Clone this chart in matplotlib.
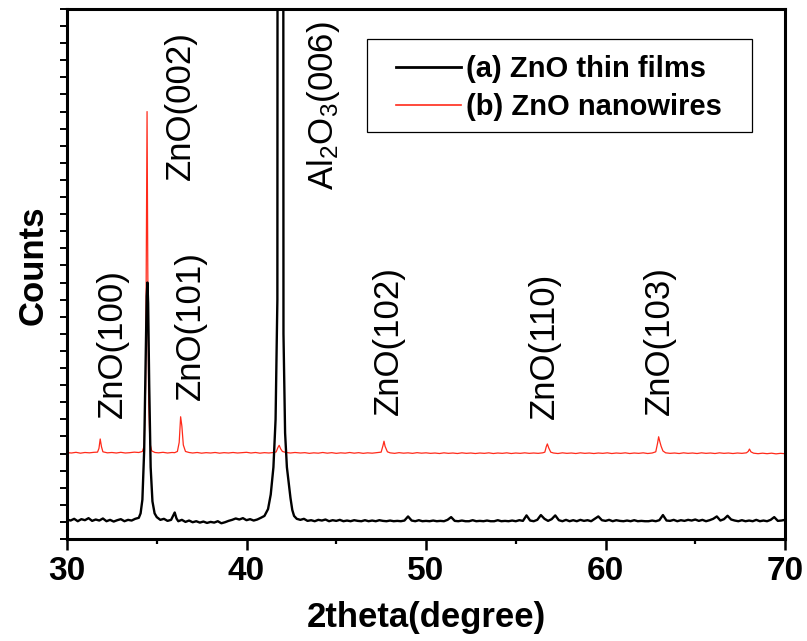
import matplotlib
matplotlib.use("Agg")
import matplotlib.pyplot as plt
from matplotlib.patches import Rectangle
from matplotlib.ticker import MultipleLocator

plt.rcParams["font.family"] = ["Liberation Sans", "DejaVu Sans"]
plt.rcParams["mathtext.fontset"] = "custom"
plt.rcParams["mathtext.rm"] = "Liberation Sans"
plt.rcParams["mathtext.default"] = "rm"

# (a) ZnO thin films, black trace
black_2theta = [
    30.0, 30.2, 30.4, 30.6, 30.8, 31.0, 31.2, 31.4, 31.6, 31.8,
    32.0, 32.2, 32.4, 32.6, 32.8, 33.0, 33.2, 33.4, 33.6, 33.8,
    34.0, 34.1, 34.2, 34.3, 34.38, 34.44, 34.48, 34.52, 34.58, 34.66, 34.76, 34.88,
    35.0, 35.2, 35.4, 35.6, 35.8, 36.0, 36.1, 36.2, 36.4, 36.6, 36.8,
    37.0, 37.2, 37.4, 37.6, 37.8, 38.0, 38.2, 38.4, 38.6, 38.8,
    39.0, 39.2, 39.4, 39.6, 39.8, 40.0, 40.2, 40.4, 40.6, 40.8,
    41.0, 41.2, 41.35, 41.5, 41.62, 41.72, 41.8, 41.9, 41.98, 42.06,
    42.15, 42.25, 42.35, 42.45, 42.55, 42.65, 42.8,
    43.0, 43.2, 43.4, 43.6, 43.8, 44.0, 44.2, 44.4, 44.6, 44.8,
    45.0, 45.2, 45.4, 45.6, 45.8, 46.0, 46.2, 46.4, 46.6, 46.8,
    47.0, 47.2, 47.4, 47.6, 47.8, 48.0, 48.2, 48.4, 48.6, 48.8,
    49.0, 49.2, 49.4, 49.6, 49.8, 50.0, 50.2, 50.4, 50.6, 50.8,
    51.0, 51.2, 51.4, 51.6, 51.8, 52.0, 52.2, 52.4, 52.6, 52.8,
    53.0, 53.2, 53.4, 53.6, 53.8, 54.0, 54.2, 54.4, 54.6, 54.8,
    55.0, 55.2, 55.4, 55.6, 55.8, 56.0, 56.2, 56.4, 56.6, 56.8,
    57.0, 57.2, 57.4, 57.6, 57.8, 58.0, 58.2, 58.4, 58.6, 58.8,
    59.0, 59.2, 59.4, 59.6, 59.8, 60.0, 60.2, 60.4, 60.6, 60.8,
    61.0, 61.2, 61.4, 61.6, 61.8, 62.0, 62.2, 62.4, 62.6, 62.8,
    63.0, 63.2, 63.4, 63.6, 63.8, 64.0, 64.2, 64.4, 64.6, 64.8,
    65.0, 65.2, 65.4, 65.6, 65.8, 66.0, 66.2, 66.4, 66.6, 66.8,
    67.0, 67.2, 67.4, 67.6, 67.8, 68.0, 68.2, 68.4, 68.6, 68.8,
    69.0, 69.2, 69.4, 69.6, 69.8, 70.0,
]
black_counts = [
    114, 108, 118, 104, 116, 110, 122, 106, 114, 108,
    120, 104, 112, 102, 110, 116, 104, 112, 108, 118,
    124, 150, 230, 520, 1050, 1420, 1500, 1380, 900, 420, 220, 150,
    128, 112, 118, 106, 112, 155, 120, 104, 112, 100, 108,
    98, 104, 96, 102, 94, 100, 96, 104, 92, 98,
    106, 112, 120, 114, 122, 110, 116, 108, 114, 124,
    135, 175, 260, 420, 700, 1400, 20000, 25000, 20000, 1200,
    620, 420, 330, 240, 170, 135, 118,
    112, 118, 106, 110, 104, 112, 108, 114, 104, 110,
    106, 112, 104, 108, 104, 110, 106, 104, 110, 104,
    108, 104, 110, 106, 104, 108, 104, 106, 104, 108,
    132, 108, 104, 110, 104, 106, 104, 108, 104, 106,
    104, 112, 128, 106, 104, 108, 104, 104, 110, 104,
    106, 104, 108, 104, 104, 110, 104, 106, 104, 108,
    104, 110, 106, 138, 108, 104, 112, 140, 118, 106,
    116, 138, 110, 104, 112, 104, 110, 104, 112, 106,
    110, 104, 118, 132, 110, 106, 112, 104, 110, 106,
    104, 108, 104, 110, 104, 106, 104, 104, 108, 104,
    110, 140, 108, 106, 112, 104, 110, 106, 112, 108,
    114, 106, 112, 104, 110, 118, 132, 108, 116, 136,
    114, 108, 104, 110, 104, 108, 104, 112, 104, 108,
    104, 112, 128, 106, 108, 112,
]

# (b) ZnO nanowires, red trace
red_2theta = [
    30.0, 30.25, 30.5, 30.75, 31.0, 31.25, 31.5, 31.7, 31.78, 31.85,
    31.92, 32.0, 32.25, 32.5, 32.75, 33.0, 33.25, 33.5, 33.75, 34.0,
    34.2, 34.3, 34.38, 34.42, 34.46, 34.5, 34.55, 34.62, 34.72, 34.9,
    35.1, 35.35, 35.6, 35.85, 36.0, 36.15, 36.25, 36.33, 36.4, 36.48,
    36.6, 36.8, 37.0, 37.25, 37.5, 37.75, 38.0, 38.25, 38.5, 38.75,
    39.0, 39.25, 39.5, 39.75, 40.0, 40.25, 40.5, 40.75, 41.0, 41.25,
    41.5, 41.65, 41.75, 41.82, 41.9, 42.0, 42.2, 42.45, 42.7, 43.0,
    43.25, 43.5, 43.75, 44.0, 44.25, 44.5, 44.75, 45.0, 45.25, 45.5,
    45.75, 46.0, 46.25, 46.5, 46.75, 47.0, 47.25, 47.5, 47.6, 47.66,
    47.72, 47.85, 48.0, 48.25, 48.5, 48.75, 49.0, 49.25, 49.5, 49.75,
    50.0, 50.25, 50.5, 50.75, 51.0, 51.25, 51.5, 51.75, 52.0, 52.25,
    52.5, 52.75, 53.0, 53.25, 53.5, 53.75, 54.0, 54.25, 54.5, 54.75,
    55.0, 55.25, 55.5, 55.75, 56.0, 56.25, 56.5, 56.62, 56.7, 56.76,
    56.84, 56.95, 57.1, 57.35, 57.6, 57.85, 58.1, 58.35, 58.6, 58.85,
    59.1, 59.35, 59.6, 59.85, 60.1, 60.35, 60.6, 60.85, 61.1, 61.35,
    61.6, 61.85, 62.1, 62.35, 62.6, 62.8, 62.9, 62.96, 63.02, 63.1,
    63.2, 63.35, 63.6, 63.85, 64.1, 64.35, 64.6, 64.85, 65.1, 65.35,
    65.6, 65.85, 66.1, 66.35, 66.6, 66.85, 67.1, 67.35, 67.6, 67.85,
    67.95, 68.02, 68.1, 68.25, 68.5, 68.75, 69.0, 69.25, 69.5, 69.75,
    70.0,
]
red_counts = [
    505, 503, 507, 502, 506, 504, 507, 508, 530, 585,
    540, 510, 504, 506, 503, 507, 503, 505, 508, 506,
    512, 545, 900, 1700, 2500, 1600, 800, 560, 515, 506,
    504, 507, 503, 506, 505, 512, 565, 715, 660, 550,
    512, 506, 503, 506, 502, 505, 503, 506, 502, 505,
    503, 506, 503, 505, 507, 503, 506, 502, 505, 503,
    506, 509, 535, 548, 528, 512, 506, 503, 506, 503,
    505, 501, 504, 502, 506, 502, 505, 501, 504, 502,
    506, 502, 505, 501, 504, 502, 505, 508, 545, 572,
    542, 510, 504, 501, 505, 502, 504, 501, 505, 502,
    504, 501, 503, 500, 504, 501, 503, 500, 504, 501,
    503, 500, 503, 501, 504, 500, 503, 501, 504, 500,
    503, 501, 504, 501, 503, 501, 504, 508, 540, 556,
    532, 508, 503, 500, 504, 501, 503, 500, 504, 501,
    503, 500, 503, 501, 504, 500, 503, 501, 504, 500,
    503, 501, 504, 500, 503, 510, 560, 598, 572, 542,
    515, 504, 501, 503, 500, 504, 501, 503, 500, 504,
    501, 503, 500, 504, 501, 503, 500, 503, 501, 504,
    512, 526, 510, 502, 499, 502, 499, 502, 498, 501,
    499,
]

# peak labels: text, 2theta position, count level of the label's lower end
peak_labels = ["ZnO(100)", "ZnO(002)", "ZnO(101)", r"Al$_2$O$_3$(006)",
               "ZnO(102)", "ZnO(110)", "ZnO(103)"]
label_2theta = [32.55, 36.3, 36.9, 44.3, 47.9, 56.6, 63.0]
label_counts = [708, 2099, 813, 2041, 725, 702, 725]

fig = plt.figure(figsize=(8.07, 6.41), dpi=100)
ax = fig.add_axes([67 / 807, 102 / 641, 718 / 807, 530 / 641])

line_red, = ax.plot(red_2theta, red_counts, color="#ff2a1a", linewidth=0.9,
                    label="(b) ZnO nanowires", zorder=2)
line_black, = ax.plot(black_2theta, black_counts, color="black", linewidth=1.7,
                      label="(a) ZnO thin films", zorder=3)

for txt, x, y in zip(peak_labels, label_2theta, label_counts):
    ax.text(x, y, txt, rotation=90, ha="center", va="bottom",
            fontsize=25, color="black")

ax.set_xlim(30, 70)
ax.set_ylim(0, 3100)
ax.xaxis.set_major_locator(MultipleLocator(10))
ax.xaxis.set_minor_locator(MultipleLocator(5))
ax.yaxis.set_major_locator(MultipleLocator(100))
ax.set_yticklabels([])

ax.tick_params(axis="x", which="major", direction="out", length=8, width=1.8,
               labelsize=24, pad=4)
ax.tick_params(axis="x", which="minor", direction="out", length=3.5, width=1.6)
ax.tick_params(axis="y", which="major", direction="out", length=5, width=1.4)
for lbl in ax.get_xticklabels():
    lbl.set_fontweight("bold")

for sp in ax.spines.values():
    sp.set_linewidth(2.2)

ax.set_xlabel("2theta(degree)", fontsize=25, fontweight="bold", labelpad=10)
ax.set_ylabel("Counts", fontsize=25, fontweight="bold")
ax.yaxis.set_label_coords(-0.024, 0.517)

# legend box drawn separately so the side padding can be wider than the top
ax.add_patch(Rectangle((0.418, 0.768), 0.536, 0.175, transform=ax.transAxes,
                       facecolor="white", edgecolor="black", linewidth=0.9,
                       zorder=4))
leg = ax.legend(handles=[line_black, line_red], loc="upper left",
                bbox_to_anchor=(0.458, 0.913), borderaxespad=0, borderpad=0,
                frameon=False, prop={"size": 21, "weight": "bold"},
                handlelength=2.25, handletextpad=0.15, labelspacing=0.34)
leg.set_zorder(5)
leg.legend_handles[0].set_linewidth(2)
leg.legend_handles[1].set_linewidth(1.2)

fig.savefig("out.png", dpi=100)
